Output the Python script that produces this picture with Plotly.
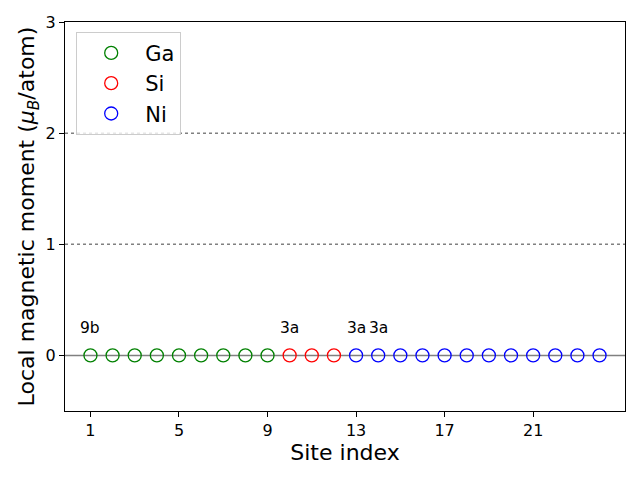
import plotly.graph_objects as go

ga_sites = [1, 2, 3, 4, 5, 6, 7, 8, 9]
ga_moments = [0, 0, 0, 0, 0, 0, 0, 0, 0]
si_sites = [10, 11, 12]
si_moments = [0, 0, 0]
ni_sites = [13, 14, 15, 16, 17, 18, 19, 20, 21, 22, 23, 24]
ni_moments = [0, 0, 0, 0, 0, 0, 0, 0, 0, 0, 0, 0]
label_sites = [1, 10, 13, 14]
label_texts = ["9b", "3a", "3a", "3a"]
label_y = 0.15
xtick_vals = [1, 5, 9, 13, 17, 21]
ytick_vals = [0, 1, 2, 3]
dotted_levels = [1, 2]

fig = go.Figure()
for name, xs, ys, col in [("Ga", ga_sites, ga_moments, "green"),
                          ("Si", si_sites, si_moments, "red"),
                          ("Ni", ni_sites, ni_moments, "blue")]:
    fig.add_trace(go.Scatter(x=xs, y=ys, mode="markers", name=name,
                             marker=dict(symbol="circle-open", size=13, color=col,
                                         line=dict(width=1.3, color=col))))

fig.add_hline(y=0, line=dict(color="gray", width=1.5), layer="below")
for lv in dotted_levels:
    fig.add_hline(y=lv, line=dict(color="gray", width=1.5, dash="dot"), layer="below")

for xs, t in zip(label_sites, label_texts):
    fig.add_annotation(x=xs, y=label_y, text=t, showarrow=False, yanchor="bottom",
                       xanchor="center", font=dict(size=15.5, color="black"))

axis_common = dict(showgrid=False, zeroline=False, showline=True, linecolor="black",
                   linewidth=1, mirror=True, ticks="outside", ticklen=5,
                   tickcolor="black", tickfont=dict(size=16, color="black"),
                   automargin=False)

fig.update_layout(
    width=640, height=480,
    margin=dict(l=57, r=23, t=14, b=77),
    plot_bgcolor="white", paper_bgcolor="white",
    font=dict(family="DejaVu Sans", color="black"),
    xaxis=dict(range=[-0.15, 25.15], tickvals=xtick_vals,
               title=dict(text="Site index", font=dict(size=22), standoff=4),
               **axis_common),
    yaxis=dict(range=[-0.5, 3], tickvals=ytick_vals,
               title=dict(text="Local magnetic moment (<i>μ</i><sub><i>B</i></sub>/atom)",
                          font=dict(size=22), standoff=4),
               **axis_common),
    legend=dict(x=0.02, y=0.975, xanchor="left", yanchor="top",
                bgcolor="rgba(255,255,255,0.8)", bordercolor="#cccccc", borderwidth=1,
                font=dict(size=21), itemwidth=58, tracegroupgap=0),
    showlegend=True,
)

fig.write_html("out.html")
